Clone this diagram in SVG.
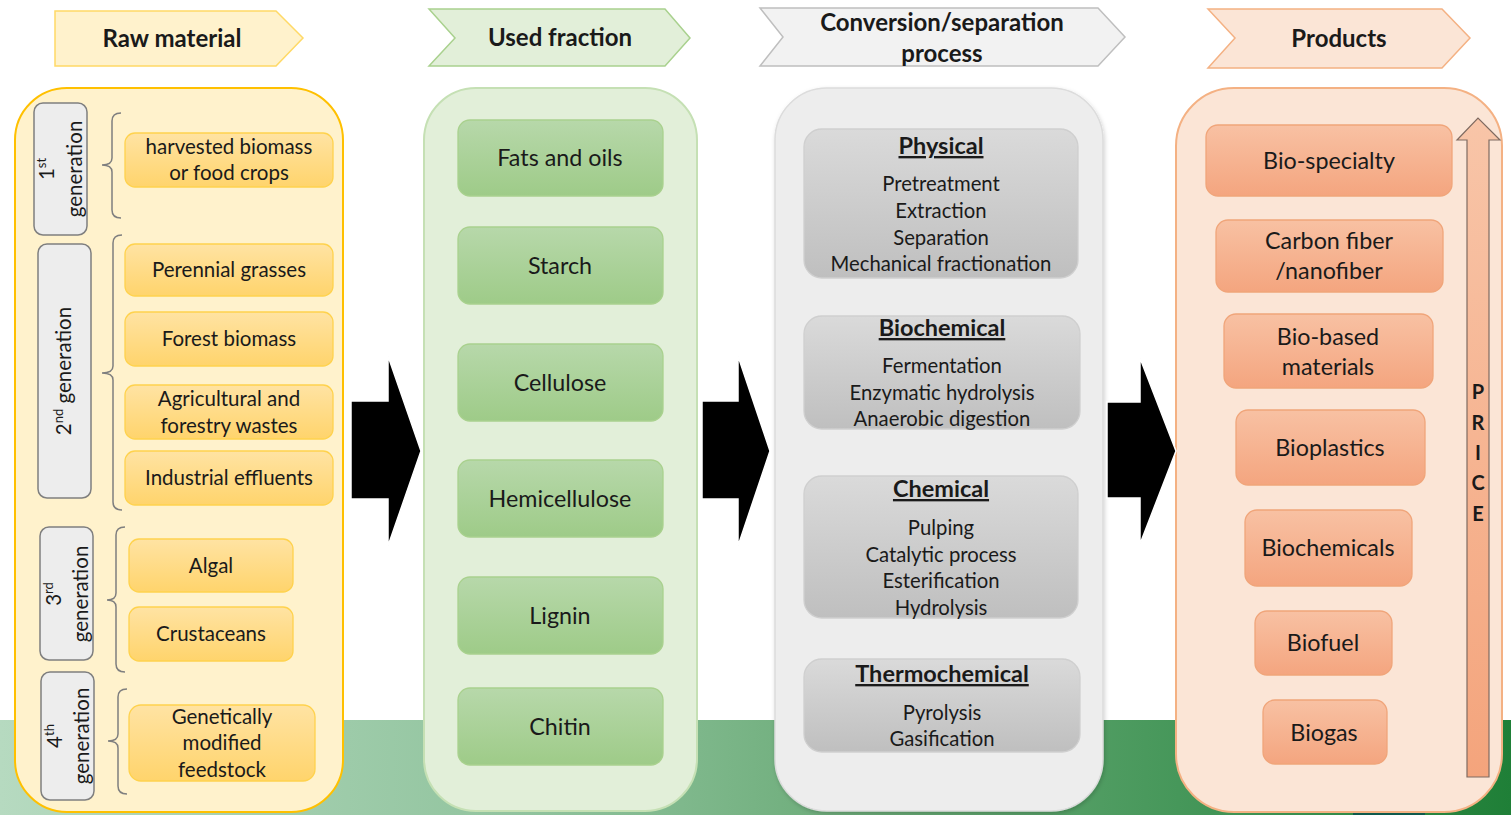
<svg xmlns="http://www.w3.org/2000/svg" width="1511" height="815" viewBox="0 0 1511 815">
<defs>
<linearGradient id="band" x1="0" y1="0" x2="1" y2="0">
<stop offset="0" stop-color="#b6dac0"/>
<stop offset="0.35" stop-color="#90c39d"/>
<stop offset="0.6" stop-color="#66a873"/>
<stop offset="0.78" stop-color="#46975a"/>
<stop offset="1" stop-color="#1f7f37"/>
</linearGradient>
<linearGradient id="gY" x1="0" y1="0" x2="0" y2="1"><stop offset="0" stop-color="#ffe3a3"/><stop offset="1" stop-color="#ffd46c"/></linearGradient>
<linearGradient id="gG" x1="0" y1="0" x2="0" y2="1"><stop offset="0" stop-color="#b7d8aa"/><stop offset="1" stop-color="#9ecb88"/></linearGradient>
<linearGradient id="gS" x1="0" y1="0" x2="0" y2="1"><stop offset="0" stop-color="#dadada"/><stop offset="1" stop-color="#bfbfbf"/></linearGradient>
<linearGradient id="gO" x1="0" y1="0" x2="0" y2="1"><stop offset="0" stop-color="#f8c1a3"/><stop offset="1" stop-color="#f4a57f"/></linearGradient>
<linearGradient id="gP" x1="0" y1="0" x2="0" y2="1"><stop offset="0" stop-color="#f8c5a8"/><stop offset="1" stop-color="#f4a47c"/></linearGradient>
<filter id="sh" x="-10%" y="-10%" width="120%" height="120%"><feDropShadow dx="1" dy="2" stdDeviation="2" flood-color="#000" flood-opacity="0.18"/></filter>
</defs>
<style>
text{font-family:Lato,"Open Sans","Liberation Sans",sans-serif;fill:#1a1a1a;text-anchor:middle}
.hd{font-weight:bold;font-size:24px}
.it{font-size:20.5px}
.gn{font-size:20.5px}
.fr{font-size:23.3px}
.pr{font-size:20.3px}
.pt{font-size:23.5px;font-weight:bold;text-decoration:underline}
.pd{font-size:23.3px}
.pc{font-size:20px;font-weight:bold}
.y{fill:url(#gY);stroke:#ffd24d;stroke-width:1.3}
.g{fill:url(#gG);stroke:#a9d18e;stroke-width:1.3}
.s{fill:url(#gS);stroke:#cfcfcf;stroke-width:1.3}
.o{fill:url(#gO);stroke:#f0a57a;stroke-width:1.3}
.lb{fill:#ededed;stroke:#7f7f7f;stroke-width:1.5}
.br{fill:none;stroke:#7f7f7f;stroke-width:1.5}
.ar{fill:#000;stroke:#fff;stroke-width:1.5}
</style>
<rect x="0" y="0" width="1511" height="815" fill="#fff"/>
<rect x="0" y="720" width="1511" height="95" fill="url(#band)"/>
<rect x="1353" y="811" width="72" height="4" fill="#0f5a4c"/>

<g id="header-raw">
<polygon points="55,11 276,11 303,38 276,66 55,66" fill="#fff2cc" stroke="#ffd966" stroke-width="1.5"/>
<text class="hd" x="172" y="47">Raw material</text>
</g>
<g id="header-used">
<polygon points="429,9 665,9 690,38 665,66 429,66 455,38" fill="#e2efd9" stroke="#a9d18e" stroke-width="1.5"/>
<text class="hd" x="560" y="46">Used fraction</text>
</g>
<g id="header-conv">
<polygon points="760,8 1098,8 1125,37 1098,66 760,66 783,37" fill="#f2f2f2" stroke="#bfbfbf" stroke-width="1.5"/>
<text class="hd" x="942" y="31">Conversion/separation</text>
<text class="hd" x="942" y="62">process</text>
</g>
<g id="header-products">
<polygon points="1208,9 1442,9 1470,38 1442,68 1208,68 1235,38" fill="#fbe5d6" stroke="#f4b183" stroke-width="1.5"/>
<text class="hd" x="1339" y="47">Products</text>
</g>

<g id="col-raw">
<rect x="15" y="88" width="328" height="724" rx="52" fill="#fff2cc" stroke="#ffc000" stroke-width="2"/>
</g>
<g id="col-used">
<rect x="424" y="88" width="273" height="723" rx="52" fill="#e2efd9" stroke="#c5e0b4" stroke-width="2"/>
</g>
<g id="col-conv">
<rect x="775" y="88" width="328" height="723" rx="52" fill="#ededed" stroke="#dcdcdc" stroke-width="1.5" filter="url(#sh)"/>
</g>
<g id="col-products">
<rect x="1176" y="88" width="326" height="724" rx="58" fill="#fbe5d6" stroke="#f4b183" stroke-width="2"/>
</g>

<g id="gen1">
<rect class="lb" x="34" y="103" width="53" height="132" rx="9"/>
<g transform="translate(60,169) rotate(-90)"><text class="gn" y="-6">1<tspan font-size="13" dy="-8">st</tspan></text><text class="gn" y="22">generation</text></g>
</g>
<g id="gen2">
<rect class="lb" x="38" y="244" width="53" height="254" rx="9"/>
<g transform="translate(64,371) rotate(-90)"><text class="gn" y="7">2<tspan font-size="13" dy="-8">nd</tspan><tspan dy="8"> generation</tspan></text></g>
</g>
<g id="gen3">
<rect class="lb" x="40" y="527" width="53" height="133" rx="9"/>
<g transform="translate(66,594) rotate(-90)"><text class="gn" y="-5">3<tspan font-size="13" dy="-8">rd</tspan></text><text class="gn" y="22">generation</text></g>
</g>
<g id="gen4">
<rect class="lb" x="41" y="672" width="53" height="128" rx="9"/>
<g transform="translate(67,736) rotate(-90)"><text class="gn" y="-5">4<tspan font-size="13" dy="-8">th</tspan></text><text class="gn" y="22">generation</text></g>
</g>

<g id="braces">
<path class="br" d="M121,113 Q112,113 112,121 L112,158 Q112,165 102,165 Q112,165 112,172 L112,210 Q112,218 121,218"/>
<path class="br" d="M122,235 Q113,235 113,243 L113,366 Q113,373 102,373 Q113,373 113,380 L113,502 Q113,510 122,510"/>
<path class="br" d="M125,527 Q116,527 116,535 L116,593 Q116,600 107,600 Q116,600 116,607 L116,664 Q116,672 125,672"/>
<path class="br" d="M127,689 Q118,689 118,697 L118,734 Q118,741 108,741 Q118,741 118,748 L118,786 Q118,794 127,794"/>
</g>

<g id="raw-harvested"><rect class="y" x="125" y="133" width="208" height="54" rx="10"/><text class="it" x="229" y="154">harvested biomass</text><text class="it" x="229" y="180">or food crops</text></g>
<g id="raw-perennial"><rect class="y" x="125" y="244" width="208" height="52" rx="10"/><text class="it" x="229" y="277">Perennial grasses</text></g>
<g id="raw-forest"><rect class="y" x="125" y="312" width="208" height="54" rx="10"/><text class="it" x="229" y="346">Forest biomass</text></g>
<g id="raw-agri"><rect class="y" x="125" y="385" width="208" height="54" rx="10"/><text class="it" x="229" y="406">Agricultural and</text><text class="it" x="229" y="433">forestry wastes</text></g>
<g id="raw-industrial"><rect class="y" x="125" y="451" width="208" height="54" rx="10"/><text class="it" x="229" y="485">Industrial effluents</text></g>
<g id="raw-algal"><rect class="y" x="129" y="539" width="164" height="53" rx="10"/><text class="it" x="211" y="573">Algal</text></g>
<g id="raw-crustaceans"><rect class="y" x="129" y="607" width="164" height="54" rx="10"/><text class="it" x="211" y="641">Crustaceans</text></g>
<g id="raw-gm"><rect class="y" x="129" y="705" width="186" height="76" rx="12"/><text class="it" x="222" y="724">Genetically</text><text class="it" x="222" y="750">modified</text><text class="it" x="222" y="777">feedstock</text></g>

<g id="fr-fats"><rect class="g" x="458" y="120" width="205" height="76" rx="12"/><text class="fr" x="560" y="166">Fats and oils</text></g>
<g id="fr-starch"><rect class="g" x="458" y="227" width="205" height="77" rx="12"/><text class="fr" x="560" y="274">Starch</text></g>
<g id="fr-cellulose"><rect class="g" x="458" y="344" width="205" height="77" rx="12"/><text class="fr" x="560" y="391">Cellulose</text></g>
<g id="fr-hemi"><rect class="g" x="458" y="460" width="205" height="77" rx="12"/><text class="fr" x="560" y="507">Hemicellulose</text></g>
<g id="fr-lignin"><rect class="g" x="458" y="577" width="205" height="77" rx="12"/><text class="fr" x="560" y="624">Lignin</text></g>
<g id="fr-chitin"><rect class="g" x="458" y="688" width="205" height="77" rx="12"/><text class="fr" x="560" y="735">Chitin</text></g>

<g id="pr-physical"><rect class="s" x="804" y="129" width="274" height="149" rx="18"/>
<text class="pt" x="941" y="154">Physical</text>
<text class="pr" x="941" y="191">Pretreatment</text><text class="pr" x="941" y="218">Extraction</text><text class="pr" x="941" y="245">Separation</text><text class="pr" x="941" y="271">Mechanical fractionation</text></g>
<g id="pr-biochemical"><rect class="s" x="804" y="316" width="276" height="113" rx="18"/>
<text class="pt" x="942" y="336">Biochemical</text>
<text class="pr" x="942" y="373">Fermentation</text><text class="pr" x="942" y="400">Enzymatic hydrolysis</text><text class="pr" x="942" y="426">Anaerobic digestion</text></g>
<g id="pr-chemical"><rect class="s" x="804" y="476" width="274" height="142" rx="18"/>
<text class="pt" x="941" y="497">Chemical</text>
<text class="pr" x="941" y="535">Pulping</text><text class="pr" x="941" y="562">Catalytic process</text><text class="pr" x="941" y="588">Esterification</text><text class="pr" x="941" y="615">Hydrolysis</text></g>
<g id="pr-thermo"><rect class="s" x="804" y="659" width="276" height="93" rx="18"/>
<text class="pt" x="942" y="682">Thermochemical</text>
<text class="pr" x="942" y="720">Pyrolysis</text><text class="pr" x="942" y="746">Gasification</text></g>

<g id="pd-specialty"><rect class="o" x="1206" y="125" width="246" height="71" rx="12"/><text class="pd" x="1329" y="169">Bio-specialty</text></g>
<g id="pd-carbon"><rect class="o" x="1216" y="220" width="227" height="72" rx="12"/><text class="pd" x="1329" y="249">Carbon fiber</text><text class="pd" x="1329" y="279">/nanofiber</text></g>
<g id="pd-biobased"><rect class="o" x="1224" y="314" width="209" height="74" rx="12"/><text class="pd" x="1328" y="345">Bio-based</text><text class="pd" x="1328" y="375">materials</text></g>
<g id="pd-bioplastics"><rect class="o" x="1236" y="410" width="189" height="75" rx="12"/><text class="pd" x="1330" y="456">Bioplastics</text></g>
<g id="pd-biochemicals"><rect class="o" x="1245" y="510" width="167" height="76" rx="12"/><text class="pd" x="1328" y="556">Biochemicals</text></g>
<g id="pd-biofuel"><rect class="o" x="1255" y="611" width="137" height="64" rx="12"/><text class="pd" x="1323" y="651">Biofuel</text></g>
<g id="pd-biogas"><rect class="o" x="1263" y="700" width="124" height="64" rx="12"/><text class="pd" x="1324" y="741">Biogas</text></g>

<g id="price">
<polygon points="1467,777 1467,140 1457,140 1478,118 1500,140 1489,140 1489,777" fill="url(#gP)" stroke="#7f6a60" stroke-width="1.2"/>
<text class="pc" x="1478" y="399">P</text>
<text class="pc" x="1478" y="430">R</text>
<text class="pc" x="1478" y="460">I</text>
<text class="pc" x="1478" y="490">C</text>
<text class="pc" x="1478" y="521">E</text>
</g>

<g id="connectors">
<polygon class="ar" points="351,401 388,401 388,356 421,451 388,546 388,499 351,499"/>
<polygon class="ar" points="702,401 738,401 738,356 770,451 738,546 738,499 702,499"/>
<polygon class="ar" points="1107,402 1140,402 1140,358 1176,451 1140,544 1140,498 1107,498"/>
</g>
</svg>
